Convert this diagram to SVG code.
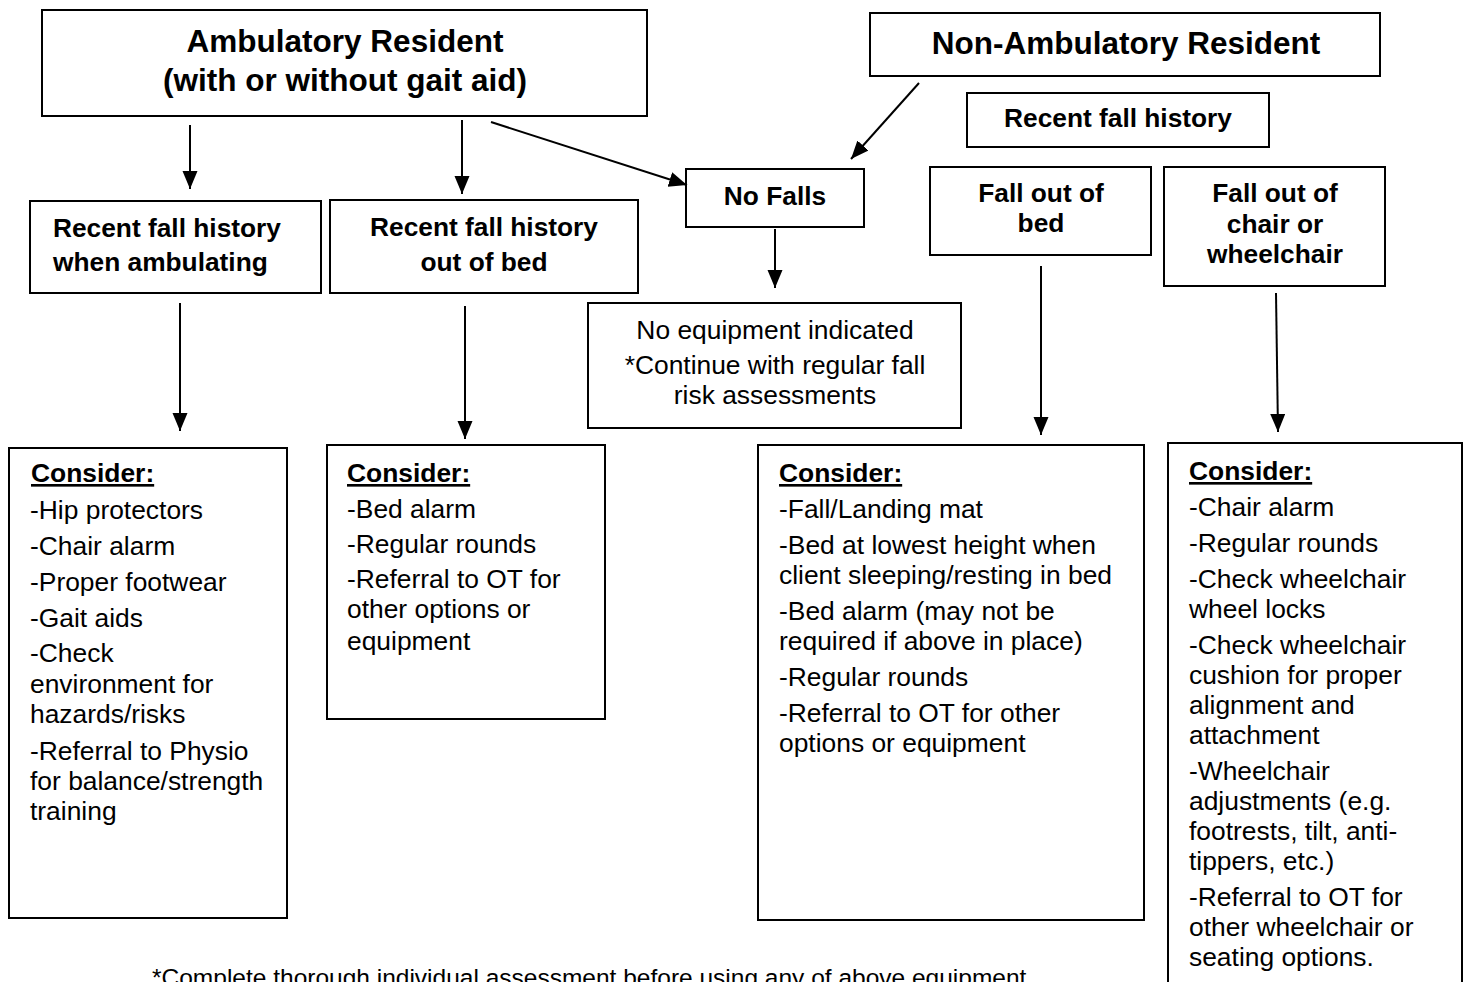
<svg xmlns="http://www.w3.org/2000/svg" width="1465" height="982" viewBox="0 0 1465 982">
<style>
rect.box{fill:#fff;stroke:#000;stroke-width:2}
text{font-family:"Liberation Sans",Arial,sans-serif;fill:#000}
.h1{font-size:31.5px;font-weight:bold;text-anchor:middle}
.h2{font-size:26.3px;font-weight:bold}
.c{text-anchor:middle}
.b{font-size:26.4px}
.u{font-weight:bold;text-decoration:underline}
.conn line{stroke:#000;stroke-width:2;marker-end:url(#ah)}
</style>
<defs>
<marker id="ah" markerUnits="userSpaceOnUse" markerWidth="18" markerHeight="16" viewBox="0 0 18 16" refX="18" refY="7.5" orient="auto">
<path d="M0,0 L18,7.5 L0,15 Z" fill="#000"/>
</marker>
</defs>
<rect width="1465" height="982" fill="#fff"/>

<g id="ambulatory">
<rect class="box" x="42" y="10" width="605" height="106"/>
<text class="h1" x="345" y="52">Ambulatory Resident</text>
<text class="h1" x="345" y="91">(with or without gait aid)</text>
</g>
<g id="non-ambulatory">
<rect class="box" x="870" y="13" width="510" height="63"/>
<text class="h1" x="1126" y="54">Non-Ambulatory Resident</text>
</g>
<g id="recent-fall-history">
<rect class="box" x="967" y="93" width="302" height="54"/>
<text class="h2 c" x="1118" y="127">Recent fall history</text>
</g>
<g id="no-falls">
<rect class="box" x="686" y="169" width="178" height="58"/>
<text class="h2 c" x="775" y="205">No Falls</text>
</g>
<g id="fall-out-of-bed">
<rect class="box" x="930" y="167" width="221" height="88"/>
<text class="h2 c" x="1041" y="202">Fall out of</text>
<text class="h2 c" x="1041" y="232">bed</text>
</g>
<g id="fall-out-of-chair">
<rect class="box" x="1164" y="167" width="221" height="119"/>
<text class="h2 c" x="1275" y="202">Fall out of</text>
<text class="h2 c" x="1275" y="233">chair or</text>
<text class="h2 c" x="1275" y="263">wheelchair</text>
</g>
<g id="rfh-ambulating">
<rect class="box" x="30" y="201" width="291" height="92"/>
<text class="h2" x="53" y="237">Recent fall history</text>
<text class="h2" x="53" y="271">when ambulating</text>
</g>
<g id="rfh-out-of-bed">
<rect class="box" x="330" y="200" width="308" height="93"/>
<text class="h2 c" x="484" y="236">Recent fall history</text>
<text class="h2 c" x="484" y="271">out of bed</text>
</g>
<g id="no-equipment">
<rect class="box" x="588" y="303" width="373" height="125"/>
<text class="b c" x="775" y="339">No equipment indicated</text>
<text class="b c" x="775" y="374">*Continue with regular fall</text>
<text class="b c" x="775" y="404">risk assessments</text>
</g>
<g id="consider-ambulating">
<rect class="box" x="9" y="448" width="278" height="470"/>
<text class="b u" x="31" y="482">Consider:</text>
<text class="b" x="30" y="519">-Hip protectors</text>
<text class="b" x="30" y="555">-Chair alarm</text>
<text class="b" x="30" y="591">-Proper footwear</text>
<text class="b" x="30" y="627">-Gait aids</text>
<text class="b" x="30" y="662">-Check</text>
<text class="b" x="30" y="693">environment for</text>
<text class="b" x="30" y="723">hazards/risks</text>
<text class="b" x="30" y="760">-Referral to Physio</text>
<text class="b" x="30" y="790">for balance/strength</text>
<text class="b" x="30" y="820">training</text>
</g>
<g id="consider-out-of-bed">
<rect class="box" x="327" y="445" width="278" height="274"/>
<text class="b u" x="347" y="482">Consider:</text>
<text class="b" x="347" y="518">-Bed alarm</text>
<text class="b" x="347" y="553">-Regular rounds</text>
<text class="b" x="347" y="588">-Referral to OT for</text>
<text class="b" x="347" y="618">other options or</text>
<text class="b" x="347" y="650">equipment</text>
</g>
<g id="consider-fall-out-of-bed">
<rect class="box" x="758" y="445" width="386" height="475"/>
<text class="b u" x="779" y="482">Consider:</text>
<text class="b" x="779" y="518">-Fall/Landing mat</text>
<text class="b" x="779" y="554">-Bed at lowest height when</text>
<text class="b" x="779" y="584">client sleeping/resting in bed</text>
<text class="b" x="779" y="620">-Bed alarm (may not be</text>
<text class="b" x="779" y="650">required if above in place)</text>
<text class="b" x="779" y="686">-Regular rounds</text>
<text class="b" x="779" y="722">-Referral to OT for other</text>
<text class="b" x="779" y="752">options or equipment</text>
</g>
<g id="consider-fall-out-of-chair">
<rect class="box" x="1168" y="443" width="294" height="580"/>
<text class="b u" x="1189" y="480">Consider:</text>
<text class="b" x="1189" y="516">-Chair alarm</text>
<text class="b" x="1189" y="552">-Regular rounds</text>
<text class="b" x="1189" y="588">-Check wheelchair</text>
<text class="b" x="1189" y="618">wheel locks</text>
<text class="b" x="1189" y="654">-Check wheelchair</text>
<text class="b" x="1189" y="684">cushion for proper</text>
<text class="b" x="1189" y="714">alignment and</text>
<text class="b" x="1189" y="744">attachment</text>
<text class="b" x="1189" y="780">-Wheelchair</text>
<text class="b" x="1189" y="810">adjustments (e.g.</text>
<text class="b" x="1189" y="840">footrests, tilt, anti-</text>
<text class="b" x="1189" y="870">tippers, etc.)</text>
<text class="b" x="1189" y="906">-Referral to OT for</text>
<text class="b" x="1189" y="936">other wheelchair or</text>
<text class="b" x="1189" y="966">seating options.</text>
</g>
<g id="footnote">
<text x="152" y="986" style="font-size:24.5px">*Complete thorough individual assessment before using any of above equipment</text>
</g>

<g id="connectors" class="conn">
<line x1="190" y1="125" x2="190" y2="189"/>
<line x1="462" y1="120" x2="462" y2="194"/>
<line x1="491" y1="122" x2="687" y2="185"/>
<line x1="919" y1="83" x2="851" y2="159"/>
<line x1="775" y1="229" x2="775" y2="288"/>
<line x1="180" y1="303" x2="180" y2="431"/>
<line x1="465" y1="306" x2="465" y2="439"/>
<line x1="1041" y1="266" x2="1041" y2="435"/>
<line x1="1276" y1="293" x2="1278" y2="432"/>
</g>
</svg>
